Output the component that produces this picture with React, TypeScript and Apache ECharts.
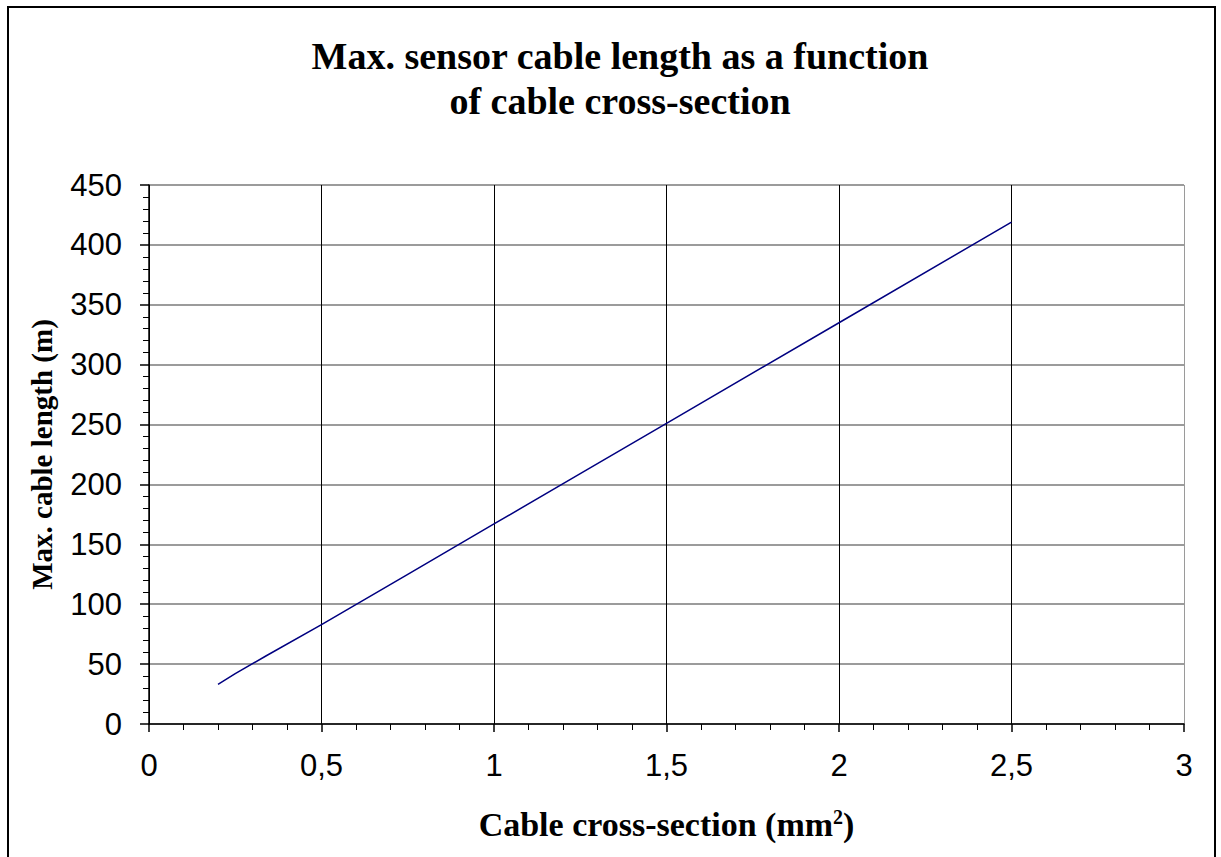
import React, { useEffect, useRef } from "react";
import * as echarts from "echarts";

const crossSections = [0.2, 0.25, 0.34, 0.5, 0.75, 1, 1.25, 1.5, 2, 2.5];
const cableLengths = [33, 42, 57, 83, 125, 167, 209, 251, 335, 419];
const xTicks = [0, 0.5, 1, 1.5, 2, 2.5, 3];
const yTicks = [0, 50, 100, 150, 200, 250, 300, 350, 400, 450];

const titleText = "Max. sensor cable length as a function\nof cable cross-section";
const xName = "Cable cross-section (mm{sup|2})";
const yName = "Max. cable length (m)";

export default function App() {
  const ref = useRef<HTMLDivElement>(null);
  useEffect(() => {
    if (!ref.current) return;
    const chart = echarts.init(ref.current, undefined, { renderer: "svg" });
    const serif = "'Liberation Serif', 'Times New Roman', serif";
    const sans = "'Liberation Sans', Arial, sans-serif";
    const vColors = xTicks.map((t, i) => (i === xTicks.length - 1 ? "#9a9a9a" : "#000000"));
    chart.setOption({
      animation: false,
      backgroundColor: "#ffffff",
      title: {
        text: titleText,
        left: 615,
        top: 28,
        textAlign: "center",
        textStyle: {
          fontFamily: serif,
          fontWeight: "bold",
          fontSize: 38,
          lineHeight: 45,
          color: "#000",
        },
      },
      graphic: [
        {
          type: "rect",
          shape: { x: 8, y: 7, width: 1207, height: 870 },
          style: { fill: "none", stroke: "#000", lineWidth: 2 },
          silent: true,
        },
      ],
      grid: { left: 149, right: 37, top: 185, bottom: 133, containLabel: false },
      xAxis: {
        type: "value",
        min: 0,
        max: 3,
        interval: 0.5,
        name: xName,
        nameLocation: "middle",
        nameGap: 83,
        nameTextStyle: {
          fontFamily: serif,
          fontWeight: "bold",
          fontSize: 34,
          color: "#000",
          rich: {
            sup: {
              fontFamily: serif,
              fontWeight: "bold",
              fontSize: 20,
              verticalAlign: "top",
              color: "#000",
            },
          },
        },
        axisLine: { show: true, onZero: false, lineStyle: { color: "#000", width: 1.5 } },
        axisTick: { show: true, inside: false, length: 8, lineStyle: { color: "#000", width: 1.5 } },
        minorTick: { show: true, splitNumber: 5, length: 6, lineStyle: { color: "#000", width: 1 } },
        axisLabel: {
          margin: 26,
          fontFamily: sans,
          fontSize: 31,
          color: "#000",
          formatter: (v: number) => String(v).replace(".", ","),
        },
        splitLine: { show: true, lineStyle: { color: vColors, width: 1 } },
      },
      yAxis: {
        type: "value",
        min: 0,
        max: 450,
        interval: 50,
        name: yName,
        nameLocation: "middle",
        nameRotate: 90,
        nameGap: 93,
        nameTextStyle: {
          fontFamily: serif,
          fontWeight: "bold",
          fontSize: 29,
          color: "#000",
        },
        axisLine: { show: true, onZero: false, lineStyle: { color: "#000", width: 1.5 } },
        axisTick: { show: true, inside: false, length: 9, lineStyle: { color: "#000", width: 1.5 } },
        minorTick: { show: true, splitNumber: 5, length: 6, lineStyle: { color: "#000", width: 1 } },
        axisLabel: {
          margin: 27,
          fontFamily: sans,
          fontSize: 31,
          color: "#000",
        },
        splitLine: { show: true, lineStyle: { color: "#7a7a7a", width: 1.5 } },
      },
      series: [
        {
          type: "line",
          data: crossSections.map((x, i) => [x, cableLengths[i]]),
          showSymbol: false,
          symbol: "none",
          lineStyle: { color: "#000080", width: 1.5 },
        },
      ],
    });
    return () => chart.dispose();
  }, []);
  return (
    <div
      ref={ref}
      style={{ position: "absolute", left: 0, top: 0, width: 1221, height: 857 }}
    />
  );
}
